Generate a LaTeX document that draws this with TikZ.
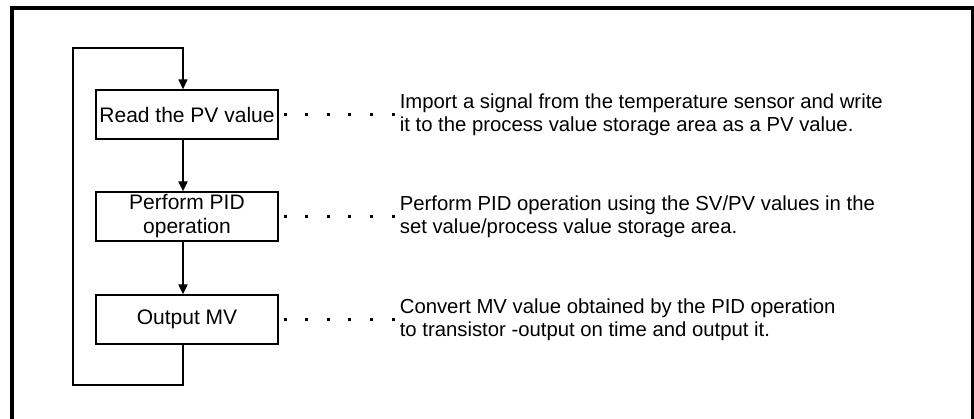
\documentclass[tikz,border=0pt]{standalone}
\usepackage{fontspec}
\setmainfont{Liberation Sans}
\usetikzlibrary{positioning}
\usetikzlibrary{arrows.meta}

\begin{document}
\begin{tikzpicture}[%
  >={Triangle[length=10pt,width=9pt]},
  x=1pt, y=-1pt,
  stepbox/.style={draw, line width=1.3pt, minimum width=182pt,
    minimum height=49pt, inner sep=0pt, align=center,
    font=\fontsize{21}{24}\selectfont},
  note/.style={inner sep=0pt, align=left,
    font=\fontsize{20.3}{23}\selectfont},
  dotline/.style={line width=3pt, dash pattern=on 3pt off 18.6pt,
    shorten <=5pt, shorten >=5pt},
  flow/.style={->, line width=2pt},
]

  \useasboundingbox (0,0) rectangle (974,418);

  % frame, open at the bottom
  \draw[line width=4pt] (12,430) -- (12,8) -- (973,8) -- (973,430);

  \node[stepbox] (read) at (187,114.5) {Read the PV value};
  \node[stepbox] (pid)  at (187,216.5) {Perform PID\\operation};
  \node[stepbox] (mv)   at (187,319.5) {Output MV};

  \node[note, right=121pt of read] (readnote)
    {Import a signal from the temperature sensor and write\\
     it to the process value storage area as a PV value.};
  \node[note, right=121pt of pid] (pidnote)
    {Perform PID operation using the SV/PV values in the\\
     set value/process value storage area.};
  \node[note, right=121pt of mv] (mvnote)
    {Convert MV value obtained by the PID operation\\
     to transistor -output on time and output it.};

  \coordinate (loopbot) at (73,385);
  \coordinate (looptop) at (73,48);

  \draw[flow] ([xshift=-4pt]read.south) -- ([xshift=-4pt]pid.north);
  \draw[flow] ([xshift=-4pt]pid.south) -- ([xshift=-4pt]mv.north);
  % back to the first step
  \draw[->, line width=1.3pt] ([xshift=-4pt]mv.south) |- (loopbot)
    -- (looptop) -| ([xshift=-4pt]read.north);

  \draw[dotline] (read.east) -- (readnote.west);
  \draw[dotline] (pid.east) -- (pidnote.west);
  \draw[dotline] (mv.east) -- (mvnote.west);

\end{tikzpicture}
\end{document}
